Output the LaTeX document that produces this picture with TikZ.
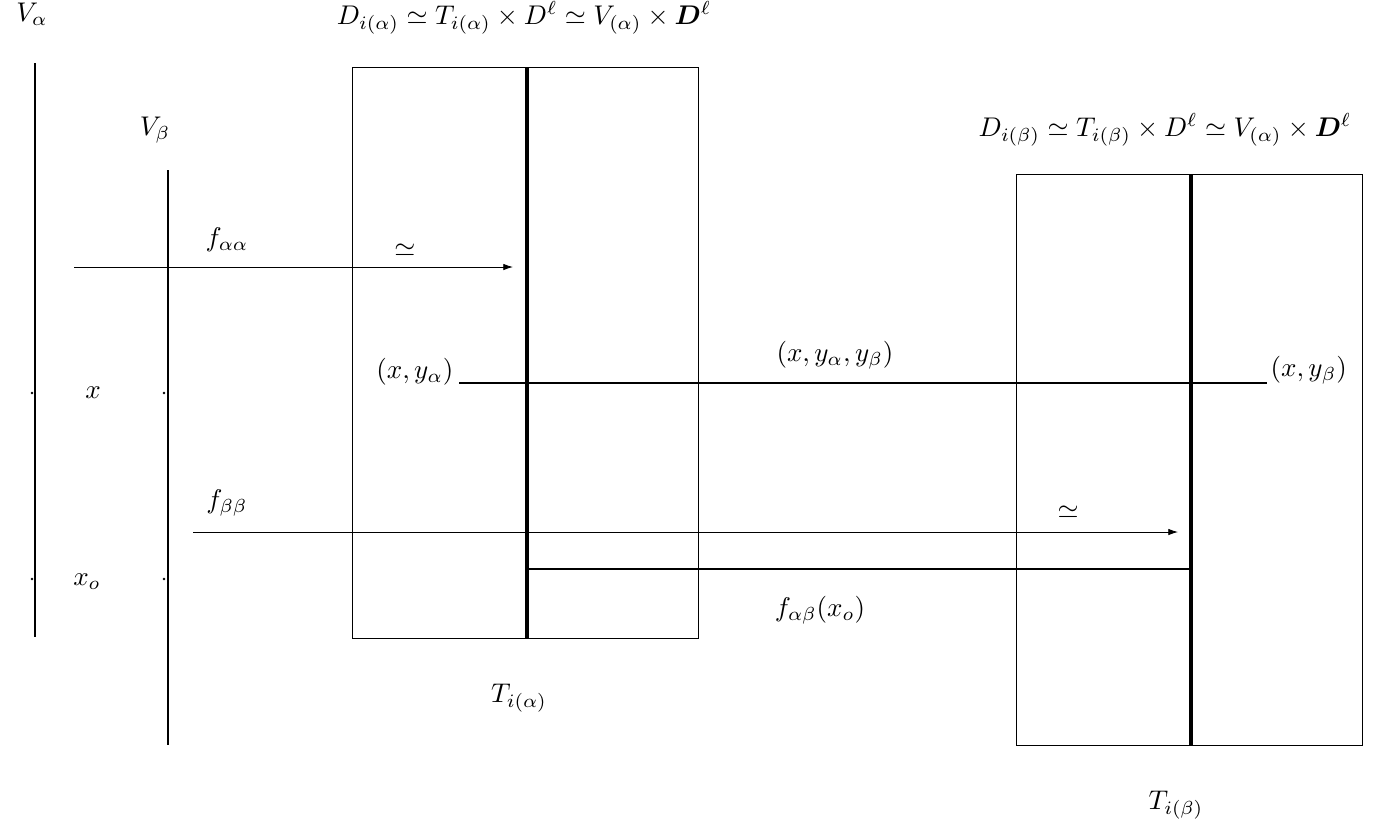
\documentclass[tikz,border=0pt]{standalone}
\usepackage{amsmath,amssymb,bm}
\usetikzlibrary{arrows.meta}
\begin{document}
\begin{tikzpicture}[x=0.37pt,y=-0.37pt,
  lbl/.style={inner sep=0pt},
  vline/.style={line width=0.8pt},
  fiber/.style={line width=1.5pt},
  box/.style={draw,line width=0.3pt},
  hline/.style={line width=0.7pt},
  arr/.style={line width=0.3pt,-{Latex[length=3.6pt,width=2.4pt]}},
  dotp/.style={circle,fill,inner sep=0pt,minimum size=1pt}]
\useasboundingbox (0,0) rectangle (1382,825);
% V_alpha, V_beta lines
\coordinate (va1) at (35,63); \coordinate (va2) at (35,637);
\coordinate (vb1) at (168,170); \coordinate (vb2) at (168,745);
\draw[vline] (va1) -- (va2);
\draw[vline] (vb1) -- (vb2);
\node[lbl] (Va) at (32,14) {$V_\alpha$};
\node[lbl] (Vb) at (155,130) {$V_\beta$};
\node[dotp] (d1) at (32,393) {};
\node[dotp] (d2) at (164,393) {};
\node[dotp] (d3) at (32,579) {};
\node[dotp] (d4) at (164,579) {};
\node[lbl] (xl) at (93,393) {$x$};
\node[lbl] (xol) at (87,582) {$x_o$};
% box alpha
\node[box,minimum width=346*0.37pt,minimum height=571*0.37pt,inner sep=0pt] (Ba) at (525,352.5) {};
\coordinate (fa1) at (527,67); \coordinate (fa2) at (527,638);
\draw[fiber] (fa1) -- (fa2);
\node[lbl] (Da) at (524,18) {$D_{i(\alpha)}\simeq T_{i(\alpha)}\times D^{\ell}\simeq V_{(\alpha)}\times \bm{D}^{\ell}$};
\node[lbl] (Ta) at (519,698) {$T_{i(\alpha)}$};
% box beta
\node[box,minimum width=346*0.37pt,minimum height=571*0.37pt,inner sep=0pt] (Bb) at (1189,459.5) {};
\coordinate (fb1) at (1191,174); \coordinate (fb2) at (1191,745);
\draw[fiber] (fb1) -- (fb2);
\node[lbl] (Db) at (1165,130) {$D_{i(\beta)}\simeq T_{i(\beta)}\times D^{\ell}\simeq V_{(\alpha)}\times \bm{D}^{\ell}$};
\node[lbl] (Tb) at (1176,805) {$T_{i(\beta)}$};
% arrows
\coordinate (a1s) at (74,267); \coordinate (a1e) at (513,267);
\draw[arr] (a1s) -- (a1e);
\node[lbl] (faa) at (227,240) {$f_{\alpha\alpha}$};
\node[lbl] (s1) at (405,250) {$\simeq$};
\coordinate (a2s) at (193,532); \coordinate (a2e) at (1178,532);
\draw[arr] (a2s) -- (a2e);
\node[lbl] (fbb) at (227,503) {$f_{\beta\beta}$};
\node[lbl] (s2) at (1068,512) {$\simeq$};
% horizontal lines
\coordinate (h1s) at (459,383); \coordinate (h1e) at (1267,383);
\draw[hline] (h1s) -- (h1e);
\node[lbl,anchor=east] (xya) at (454,372) {$(x,y_\alpha)$};
\node[lbl,anchor=west] (xyb) at (1270,370) {$(x,y_\beta)$};
\node[lbl] (xyab) at (835,355) {$(x,y_\alpha,y_\beta)$};
\coordinate (h2s) at (527,569); \coordinate (h2e) at (1191,569);
\draw[hline] (h2s) -- (h2e);
\node[lbl] (fab) at (820,610) {$f_{\alpha\beta}(x_o)$};
\end{tikzpicture}
\end{document}
